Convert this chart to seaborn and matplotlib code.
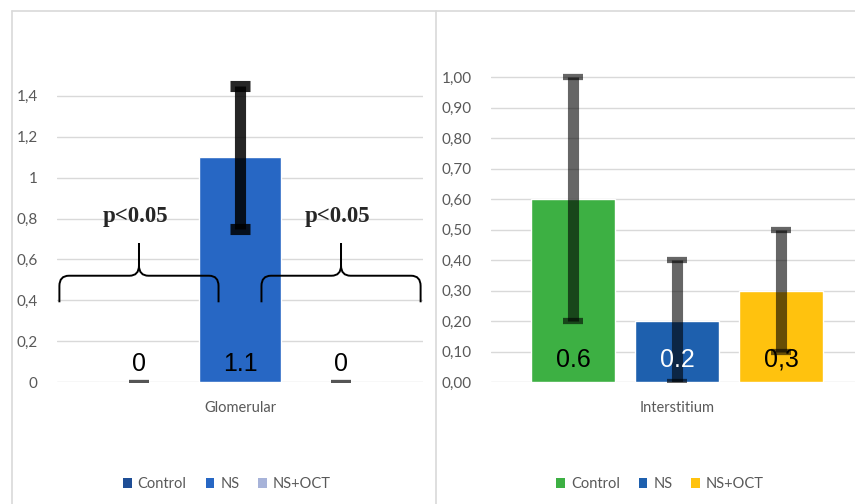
import pandas as pd
import seaborn as sns
import matplotlib.pyplot as plt
from matplotlib.lines import Line2D
from matplotlib.path import Path
from matplotlib.patches import PathPatch, Patch

sns.set_theme(style='white')
plt.rcParams['font.family'] = ['Lato', 'DejaVu Sans']

# data
groups = ['Control', 'NS', 'NS+OCT']

glom_values = [0, 1.1, 0]
glom_err = [0, 0.35, 0]
glom_labels = ['0', '1.1', '0']
glom_colors = ['#1F4E96', '#2767C4', '#A7B3D9']
glom_ticks = [0, 0.2, 0.4, 0.6, 0.8, 1.0, 1.2, 1.4]
glom_ticklabels = ['0', '0,2', '0,4', '0,6', '0,8', '1', '1,2', '1,4']

inter_values = [0.6, 0.2, 0.3]
inter_err = [0.4, 0.2, 0.2]
inter_labels = ['0.6', '0.2', '0,3']
inter_label_colors = ['black', 'white', 'black']
inter_colors = ['#3DB043', '#1E60AE', '#FFC20E']
inter_ticks = [0, 0.1, 0.2, 0.3, 0.4, 0.5, 0.6, 0.7, 0.8, 0.9, 1.0]
inter_ticklabels = ['0,00', '0,10', '0,20', '0,30', '0,40', '0,50',
                    '0,60', '0,70', '0,80', '0,90', '1,00']

GRID = '#D9D9D9'
TXT = '#595959'

fig = plt.figure(figsize=(8.55, 5.04), dpi=100)
ax1 = fig.add_axes([57 / 855, 122 / 504, 366 / 855, 327 / 504])
ax2 = fig.add_axes([491 / 855, 122 / 504, 364 / 855, 335.5 / 504])

# light frame around the two chart areas
for xs, ys in [([12, 12], [11, 504]), ([12, 855], [11, 11]), ([436, 436], [11, 504])]:
    fig.add_artist(Line2D([x / 855 for x in xs], [1 - y / 504 for y in ys],
                          color=GRID, lw=1.2, transform=fig.transFigure))


def bar_panel(ax, region, values, colors, ticks, ticklabels, ylim, xlim):
    df = pd.DataFrame({'region': region, 'group': groups, 'value': values})
    sns.barplot(data=df, x='region', y='value', hue='group', hue_order=groups,
                palette=dict(zip(groups, colors)), saturation=1, gap=0.19,
                errorbar=None, legend=False, ax=ax)
    ax.set_ylim(*ylim)
    ax.set_xlim(*xlim)
    ax.set_yticks(ticks)
    ax.set_yticklabels(ticklabels)
    ax.set_xlabel('')
    ax.set_ylabel('')
    ax.grid(axis='y', color=GRID, lw=1)
    ax.set_axisbelow(True)
    sns.despine(ax=ax, left=True, bottom=True)
    ax.tick_params(axis='y', length=0, pad=14, labelsize=11, labelcolor=TXT)
    ax.tick_params(axis='x', length=0, pad=14, labelsize=10.5, labelcolor=TXT)
    ax.set_facecolor('none')
    bars = sorted(ax.patches, key=lambda p: p.get_x())
    return [p.get_x() + p.get_width() / 2 for p in bars]


# Glomerular panel
xs1 = bar_panel(ax1, 'Glomerular', glom_values, glom_colors, glom_ticks,
                glom_ticklabels, (0, 1.6), (-0.483, 0.483))
for x, v, e, lab in zip(xs1, glom_values, glom_err, glom_labels):
    if e > 0:
        ax1.errorbar(x, v, yerr=e, fmt='none', ecolor='black', alpha=0.85,
                     elinewidth=8, capsize=7, capthick=8)
    else:
        ax1.errorbar(x, v, yerr=e, fmt='none', ecolor='#555555',
                     elinewidth=0, capsize=7, capthick=3)
    ax1.annotate(lab, (x, 0), xytext=(0, 8), textcoords='offset points',
                 ha='center', va='baseline', fontsize=18, color='black',
                 family=['Liberation Sans', 'DejaVu Sans'])


# curly braces with the p-value above them
def brace(ax, xc, half, y_end, y_main, y_tip, rx=0.025, dy=0.05):
    for s in (-1, 1):
        x1 = xc + s * half
        verts = [(xc, y_tip), (xc, y_main + dy), (xc, y_main), (xc + s * rx, y_main),
                 (x1 - s * rx, y_main), (x1, y_main), (x1, y_main - dy), (x1, y_end)]
        codes = [Path.MOVETO, Path.LINETO, Path.CURVE3, Path.CURVE3,
                 Path.LINETO, Path.CURVE3, Path.CURVE3, Path.LINETO]
        ax.add_patch(PathPatch(Path(verts, codes), fill=False, lw=1.4,
                               edgecolor='black', clip_on=False))


for i in (0, 2):
    brace(ax1, xs1[i], 0.21, 0.39, 0.52, 0.68)
    ax1.text(xs1[i] - 0.01, 0.81, 'p<0.05', ha='center', va='center',
             fontsize=16.5, fontweight='bold',
             family=['Liberation Serif', 'DejaVu Serif'])

# Interstitium panel
xs2 = bar_panel(ax2, 'Interstitium', inter_values, inter_colors, inter_ticks,
                inter_ticklabels, (0, 1.1), (-0.477, 0.456))
for x, v, e, lab, c in zip(xs2, inter_values, inter_err, inter_labels, inter_label_colors):
    ax2.errorbar(x, v, yerr=e, fmt='none', ecolor='black', alpha=0.6,
                 elinewidth=8, capsize=7.5, capthick=4.5)
    ax2.annotate(lab, (x, 0), xytext=(0, 11), textcoords='offset points',
                 ha='center', va='baseline', fontsize=18, color=c,
                 family=['Liberation Sans', 'DejaVu Sans'])

# legends below each panel
for ax, colors, cx in [(ax1, glom_colors, 227 / 855), (ax2, inter_colors, 660 / 855)]:
    handles = [Patch(facecolor=c, edgecolor='none') for c in colors]
    ax.legend(handles, groups, loc='center', bbox_to_anchor=(cx, 20 / 504),
              bbox_transform=fig.transFigure, ncol=3, frameon=False,
              handlelength=0.6, handleheight=0.7, handletextpad=0.4,
              columnspacing=1.3, fontsize=10.5, labelcolor=TXT)

plt.savefig('out.png', dpi=100)
